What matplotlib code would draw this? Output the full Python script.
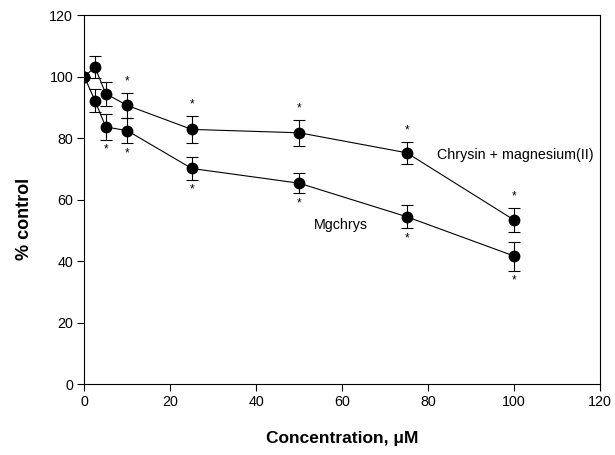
import numpy as np
import matplotlib.pyplot as plt

plt.rcParams['font.family'] = ['Liberation Sans', 'DejaVu Sans']

# concentration (uM)
conc = [0, 2.5, 5, 10, 25, 50, 75, 100]

# Chrysin + magnesium(II)
chrys_mg = [100, 103, 94.4, 90.6, 82.8, 81.7, 75.2, 53.3]
chrys_mg_err = [0, 3.6, 3.9, 4.2, 4.3, 4.3, 3.6, 3.9]
chrys_mg_sig = [False, False, False, True, True, True, True, True]

# Mgchrys
mgchrys = [100, 92.1, 83.6, 82.4, 70.1, 65.3, 54.4, 41.6]
mgchrys_err = [0, 3.8, 4.1, 4.0, 3.6, 3.3, 3.8, 4.7]
mgchrys_sig = [False, False, True, True, True, True, True, True]

fig = plt.figure(figsize=(6.15, 4.55), dpi=100)
ax = fig.add_axes([0.137, 0.156, 0.839, 0.811])

for y, e in [(chrys_mg, chrys_mg_err), (mgchrys, mgchrys_err)]:
    ax.errorbar(conc, y, yerr=e, fmt='-o', color='black', ms=7.5, lw=0.8,
                elinewidth=0.8, capsize=4, capthick=0.8)

# significance asterisks
for x, y, e, s in zip(conc, chrys_mg, chrys_mg_err, chrys_mg_sig):
    if s:
        ax.annotate('*', (x, y + e), xytext=(0, 4), textcoords='offset points',
                    ha='center', va='bottom', fontsize=8.5)
for x, y, e, s in zip(conc, mgchrys, mgchrys_err, mgchrys_sig):
    if s:
        ax.annotate('*', (x, y - e), xytext=(0, -3), textcoords='offset points',
                    ha='center', va='top', fontsize=8.5)

ax.text(82, 74.5, 'Chrysin + magnesium(II)', fontsize=10.3, va='center')
ax.text(53.5, 51.7, 'Mgchrys', fontsize=10.3, va='center')

ax.set_xlim(0, 120)
ax.set_ylim(0, 120)
ax.set_xticks(np.arange(0, 121, 20))
ax.set_yticks(np.arange(0, 121, 20))
ax.tick_params(direction='out', length=5, width=0.8, labelsize=10.3, pad=3)
for sp in ax.spines.values():
    sp.set_linewidth(0.8)

ax.set_xlabel('Concentration, \u03bcM', fontsize=12.5, fontweight='bold')
ax.set_ylabel('% control', fontsize=13, fontweight='bold')
ax.xaxis.set_label_coords(0.5, -0.128)
ax.yaxis.set_label_coords(-0.1, 0.447)

plt.savefig('out.png', dpi=100)
